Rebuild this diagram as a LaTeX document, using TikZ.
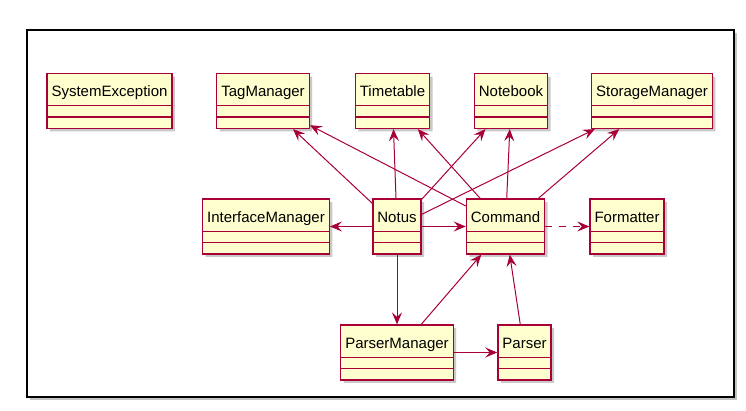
\documentclass[tikz,border=0pt]{standalone}
\usepackage{fontspec}
\setmainfont{Liberation Sans}
\usetikzlibrary{positioning, shapes.multipart, arrows.meta, shadows}
\definecolor{umlborder}{HTML}{A80036}
\definecolor{umlfill}{HTML}{FEFECE}
\tikzstyle{umlclass} = [rectangle split, rectangle split parts=3, draw=umlborder, fill=umlfill, line width=1.3pt, inner xsep=4.5pt, inner ysep=0pt, font=\fontsize{15}{18}\selectfont, drop shadow={shadow xshift=3pt, shadow yshift=-3pt, opacity=0.35, fill=black!60}]
\tikzstyle{arrow} = [draw=umlborder, line width=1pt, -{Stealth[length=12pt,width=10pt,inset=4.5pt]}]
\newcommand{\clsname}[1]{\rule[-8.3pt]{0pt}{31pt}#1\nodepart{two}\rule{0pt}{10pt}\nodepart{three}\rule{0pt}{10pt}}

\begin{document}
\begin{tikzpicture}[x=1pt, y=-1pt]
\useasboundingbox (0,0) rectangle (746,411);

%% FRAME

\draw [line width=1.4pt, fill=white, drop shadow={shadow xshift=3pt, shadow yshift=-3pt, opacity=0.4, fill=black!60}] (27,30) rectangle (734,397);

%% NODES

\node (tagmgr) [umlclass] at (263,101) {\clsname{TagManager}};
\node (sysexc) [umlclass, left of=tagmgr, node distance=153.5pt] {\clsname{SystemException}};
\node (timetable) [umlclass, right of=tagmgr, node distance=129.5pt] {\clsname{Timetable}};
\node (notebook) [umlclass, right of=timetable, node distance=118.5pt] {\clsname{Notebook}};
\node (storage) [umlclass, right of=notebook, node distance=141pt] {\clsname{StorageManager}};
\node (notus) [umlclass] at (397,226.5) {\clsname{Notus}};
\node (ifmgr) [umlclass, left of=notus, node distance=131pt] {\clsname{InterfaceManager}};
\node (command) [umlclass, right of=notus, node distance=108.5pt] {\clsname{Command}};
\node (formatter) [umlclass, right of=command, node distance=121.5pt] {\clsname{Formatter}};
\node (parsermgr) [umlclass, below of=notus, node distance=126pt] {\clsname{ParserManager}};
\node (parser) [umlclass, right of=parsermgr, node distance=127.5pt] {\clsname{Parser}};

%% ARROWS

\draw [arrow] (notus) -- (tagmgr);
\draw [arrow] (notus) -- (timetable);
\draw [arrow] (notus) -- (notebook);
\draw [arrow] (notus) -- (storage);
\draw [arrow] (notus) -- (ifmgr);
\draw [arrow] (notus) -- (command);
\draw [arrow] (notus) -- (parsermgr);
\draw [arrow] (command) -- (tagmgr);
\draw [arrow] (command) -- (timetable);
\draw [arrow] (command) -- (notebook);
\draw [arrow] (command) -- (storage);
\draw [arrow, dash pattern=on 7pt off 7pt] (command) -- (formatter);
\draw [arrow] (parsermgr) -- (command);
\draw [arrow] (parsermgr) -- (parser);
\draw [arrow] (parser) -- (command);
\end{tikzpicture}
\end{document}
